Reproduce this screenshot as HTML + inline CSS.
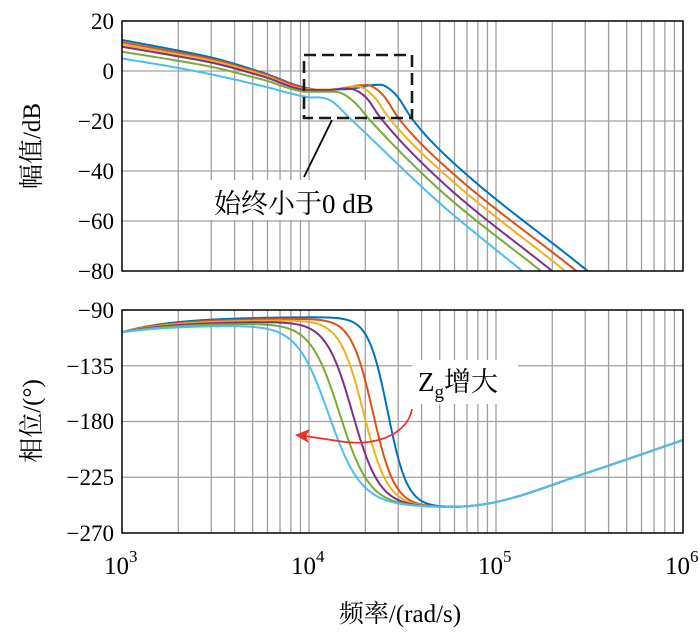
<!DOCTYPE html>
<html><head><meta charset="utf-8">
<style>
html,body{margin:0;padding:0;background:#fff;}
svg{display:block;font-family:"Liberation Serif","Noto Serif CJK SC","Noto Sans CJK SC",serif;}
</style></head>
<body>
<svg id="s" width="700" height="635" viewBox="0 0 700 635" xmlns="http://www.w3.org/2000/svg">
<defs>
<clipPath id="c1"><rect x="122" y="21" width="561" height="250"/></clipPath>
<clipPath id="c2"><rect x="122" y="310" width="561" height="223"/></clipPath>
</defs>
<g id="grid" stroke="#a0a0a0" stroke-width="1.3" fill="none"></g>
<g id="curves1" clip-path="url(#c1)" fill="none" stroke-width="2"></g>
<g id="curves2" clip-path="url(#c2)" fill="none" stroke-width="2"></g>
<rect x="122" y="21" width="561" height="250" fill="none" stroke="#000" stroke-width="1.5"/>
<rect x="122" y="310" width="561" height="223" fill="none" stroke="#000" stroke-width="1.5"/>
<g font-size="23" text-anchor="end" fill="#000">
<text x="114" y="29">20</text>
<text x="114" y="79">0</text>
<text x="114" y="129">−20</text>
<text x="114" y="179">−40</text>
<text x="114" y="229">−60</text>
<text x="114" y="279">−80</text>
<text x="114" y="318">−90</text>
<text x="114" y="374">−135</text>
<text x="114" y="429">−180</text>
<text x="114" y="485">−225</text>
<text x="114" y="541">−270</text>
</g>
<g font-size="25" fill="#000">
<text x="104" y="574">10<tspan dy="-12" font-size="17">3</tspan></text>
<text x="291" y="574">10<tspan dy="-12" font-size="17">4</tspan></text>
<text x="478" y="574">10<tspan dy="-12" font-size="17">5</tspan></text>
<text x="665" y="574">10<tspan dy="-12" font-size="17">6</tspan></text>
</g>
<text x="400" y="622" font-size="25" text-anchor="middle">频率/(rad/s)</text>
<text transform="translate(40,146) rotate(-90)" font-size="25" text-anchor="middle">幅值/dB</text>
<text transform="translate(40,421) rotate(-90)" font-size="25" text-anchor="middle">相位/(°)</text>
<rect x="304" y="55" width="108" height="63" fill="none" stroke="#1a1a1a" stroke-width="2.6" stroke-dasharray="12,6"/>
<line x1="332" y1="120" x2="304" y2="177" stroke="#000" stroke-width="1.8"/>
<rect x="210" y="180" width="174" height="40" fill="#fff"/>
<text x="214" y="213" font-size="27">始终小于0 dB</text>
<rect x="412" y="360" width="106" height="44" fill="#fff"/>
<text x="418" y="391" font-size="27">Z<tspan dy="7" font-size="19">g</tspan><tspan dy="-7">增大</tspan></text>
<path d="M412,409 C408,432 380,446 345,442 L305,436" fill="none" stroke="#e8322b" stroke-width="1.8"/>
<path d="M295,435 L310,429 L306,436 L309,443 Z" fill="#e8322b"/>
</svg>
<script>
var NS="http://www.w3.org/2000/svg";
function X(u){return 122+(u-3)*187;}
function Y1(d){return 71-d*2.5;}
function Y2(p){return 310+(-90-p)*(223/180);}
var g=document.getElementById('grid');
function ln(x1,y1,x2,y2){var l=document.createElementNS(NS,'line');l.setAttribute('x1',x1);l.setAttribute('y1',y1);l.setAttribute('x2',x2);l.setAttribute('y2',y2);g.appendChild(l);}
for(var dec=3;dec<6;dec++)for(var k=1;k<10;k++){var x=X(dec+Math.log10(k));if(k>1||dec>3){ln(x,21,x,271);ln(x,310,x,533);}}
for(var d=0;d>-80;d-=20){ln(122,Y1(d),683,Y1(d));}
[-135,-180,-225].forEach(function(p){ln(122,Y2(p),683,Y2(p));});
function interp(P,u){
 var n=P.length;if(u<=P[0][0])return P[0][1];if(u>=P[n-1][0]){var a=P[n-2],b=P[n-1];return b[1]+(u-b[0])*(b[1]-a[1])/(b[0]-a[0]);}
 var i=0;while(P[i+1][0]<u)i++;
 function m(j){if(j<=0)return (P[1][1]-P[0][1])/(P[1][0]-P[0][0]);if(j>=n-1)return (P[n-1][1]-P[n-2][1])/(P[n-1][0]-P[n-2][0]);
  var s1=(P[j][1]-P[j-1][1])/(P[j][0]-P[j-1][0]),s2=(P[j+1][1]-P[j][1])/(P[j+1][0]-P[j][0]);if(s1*s2<=0)return 0;return (s1+s2)/2;}
 var h=P[i+1][0]-P[i][0],t=(u-P[i][0])/h,t2=t*t,t3=t2*t;
 return (2*t3-3*t2+1)*P[i][1]+(t3-2*t2+t)*h*m(i)+(-2*t3+3*t2)*P[i+1][1]+(t3-t2)*h*m(i+1);
}
var cols=["#0072BD","#D95319","#EDB120","#7E2F8E","#77AC30","#4DBEEE"];
var mag=[
[[3,12.4],[3.25,8.9],[3.5,5],[3.75,-0.6],[4,-7],[4.2,-7.3],[4.35,-5.6],[4.4,-5.8],[4.47,-10],[4.55,-19],[4.7,-31.6],[5.49,-80]],
[[3,11.5],[3.25,8.1],[3.5,4.4],[3.75,-1],[4,-7.2],[4.15,-7.3],[4.28,-5.7],[4.33,-5.9],[4.4,-10],[4.48,-19],[4.7,-36.3],[5.43,-80]],
[[3,10.6],[3.25,7.3],[3.5,3.8],[3.75,-1.5],[4,-7.4],[4.12,-7.4],[4.24,-6.2],[4.28,-6.5],[4.35,-10.5],[4.43,-19],[4.7,-39.6],[5.37,-80]],
[[3,9.7],[3.25,6.5],[3.5,3],[3.75,-2.1],[4,-7.6],[4.1,-7.6],[4.2,-7],[4.24,-7.4],[4.31,-11],[4.38,-18.5],[4.7,-43.6],[5.3,-80]],
[[3,7.7],[3.25,4.7],[3.5,1.3],[3.75,-3.4],[4,-8.3],[4.1,-8.3],[4.17,-8.8],[4.25,-13],[4.33,-20],[4.7,-47.6],[5.24,-80]],
[[3,5],[3.25,1.9],[3.5,-1.7],[3.75,-6],[4,-10.5],[4.07,-10.7],[4.12,-12],[4.22,-19],[4.7,-52.9],[5.14,-80]]];
var cen=[4.42,4.34,4.29,4.23,4.16,4.1],wid=[0.052,0.058,0.064,0.071,0.078,0.085],dd=[0,1.2,2.4,3.6,5,6.5];
var high=[[3.8,-234],[4.1,-242],[4.4,-247],[4.75,-249],[5,-245],[5.476,-222],[6,-195]];
var c1=document.getElementById('curves1'),c2=document.getElementById('curves2');
for(var i=0;i<6;i++){
 var d1="",d2="";
 for(var u=3;u<=6.0001;u+=0.004){
  var m=interp(mag[i],u);
  d1+=(d1?"L":"M")+X(u).toFixed(2)+","+Y1(m).toFixed(2);
  var low=-108+(12.5-dd[i])*(1-Math.exp(-(u-3)/0.28));
  var S=1/(1+Math.exp(-(u-cen[i])/wid[i]));
  var p=low*(1-S)+interp(high,u)*S;
  d2+=(d2?"L":"M")+X(u).toFixed(2)+","+Y2(p).toFixed(2);
 }
 var a=document.createElementNS(NS,'path');a.setAttribute('d',d1);a.setAttribute('stroke',cols[i]);c1.appendChild(a);
 var b=document.createElementNS(NS,'path');b.setAttribute('d',d2);b.setAttribute('stroke',cols[i]);c2.appendChild(b);
}
</script>
</body></html>
